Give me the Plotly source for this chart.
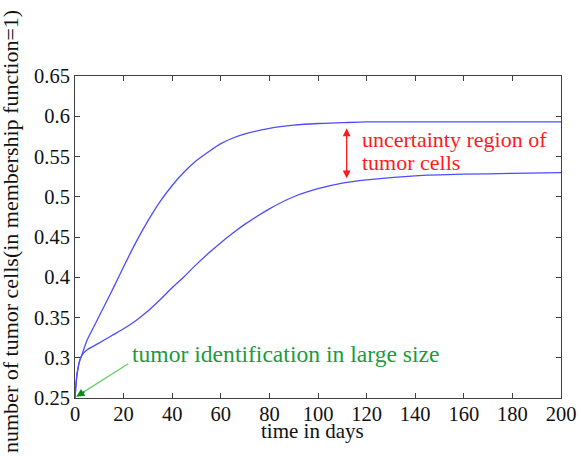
import plotly.graph_objects as go

days = [0, 0.5, 1, 2, 3, 5, 8, 12, 16, 20, 25, 30, 35, 40, 45, 50, 55, 60, 65, 70,
        80, 90, 100, 110, 120, 140, 160, 180, 200]
upper = [0.25, 0.27, 0.283, 0.297, 0.305, 0.322, 0.340, 0.364, 0.388, 0.413, 0.443,
         0.470, 0.494, 0.514, 0.531, 0.545, 0.556, 0.566, 0.573, 0.578, 0.585, 0.589,
         0.591, 0.592, 0.593, 0.593, 0.593, 0.593, 0.593]
lower = [0.25, 0.27, 0.283, 0.297, 0.304, 0.310, 0.315, 0.322, 0.329, 0.336, 0.346,
         0.358, 0.372, 0.387, 0.401, 0.416, 0.430, 0.443, 0.455, 0.466, 0.485, 0.500,
         0.510, 0.517, 0.521, 0.526, 0.528, 0.529, 0.530]

x_ticks = [0, 20, 40, 60, 80, 100, 120, 140, 160, 180, 200]
y_ticks = [0.25, 0.3, 0.35, 0.4, 0.45, 0.5, 0.55, 0.6, 0.65]
y_tick_labels = ["0.25", "0.3", "0.35", "0.4", "0.45", "0.5", "0.55", "0.6", "0.65"]

FONT = "Liberation Serif, Times New Roman, Times, serif"
BLUE = "#4d4dff"
RED = "#ff1a1a"
GREEN = "#1a9c3c"

fig = go.Figure()
for ys in (upper, lower):
    fig.add_trace(go.Scatter(x=days, y=ys, mode="lines",
                             line=dict(color=BLUE, width=1.3, shape="spline",
                                       smoothing=0.6),
                             showlegend=False, hoverinfo="skip"))

axis_common = dict(showgrid=False, zeroline=False, showline=True, mirror="ticks",
                   linecolor="#404040", linewidth=1, ticks="inside", ticklen=5,
                   tickcolor="#404040", automargin=False,
                   tickfont=dict(family=FONT, size=20.5, color="#111"))

fig.update_xaxes(range=[0, 200], tickvals=x_ticks, ticklabelstandoff=-3, **axis_common)
fig.update_yaxes(range=[0.25, 0.65], tickvals=y_ticks, ticktext=y_tick_labels,
                 **axis_common)

# red double arrow
fig.add_annotation(x=111.8, y=0.585, ax=111.8, ay=0.521, xref="x", yref="y",
                   axref="x", ayref="y", text="", showarrow=True,
                   arrowhead=2, startarrowhead=2, arrowside="end+start",
                   arrowsize=1.2, startarrowsize=1.2, arrowwidth=1.3, arrowcolor=RED)
fig.add_annotation(x=117.3, y=0.5716, xref="x", yref="y", text="uncertainty region of",
                   showarrow=False, xanchor="left", yanchor="middle",
                   font=dict(family=FONT, size=22, color=RED))
fig.add_annotation(x=117.3, y=0.543, xref="x", yref="y", text="tumor cells",
                   showarrow=False, xanchor="left", yanchor="middle",
                   font=dict(family=FONT, size=22, color=RED))

# green arrow
fig.add_shape(type="line", x0=21.9, y0=0.2926, x1=2.0, y1=0.2545, xref="x", yref="y",
              line=dict(color="#66cc66", width=1.2))
fig.add_annotation(x=0.5, y=0.2515, ax=4.5, ay=0.2592, xref="x", yref="y",
                   axref="x", ayref="y", text="", showarrow=True, arrowhead=2,
                   arrowsize=1.1, arrowwidth=1.5, arrowcolor="#0a8a1a")
fig.add_annotation(x=22.6, y=0.305, xref="x", yref="y",
                   text="tumor identification in large size",
                   showarrow=False, xanchor="left", yanchor="middle",
                   font=dict(family=FONT, size=23.6, color=GREEN))

# axis titles
fig.add_annotation(x=0.5, y=0, xref="paper", yref="paper", yshift=-33, xshift=-6,
                   text="time in days", showarrow=False, xanchor="center",
                   yanchor="middle", font=dict(family=FONT, size=21, color="#111"))
fig.add_annotation(x=0, y=0.5, xref="paper", yref="paper", xshift=-65, yshift=5,
                   text="number of tumor cells(in membership function=1)",
                   textangle=-90, showarrow=False, xanchor="center",
                   yanchor="middle", font=dict(family=FONT, size=22, color="#111"))

fig.update_layout(width=581, height=456,
                  margin=dict(l=75, r=20, t=76, b=58, pad=0),
                  paper_bgcolor="white", plot_bgcolor="white",
                  font=dict(family=FONT))

fig.write_html("out.html", config={"displayModeBar": False},
               post_script="document.body.style.margin='0';"
                           "document.body.style.padding='0';")
